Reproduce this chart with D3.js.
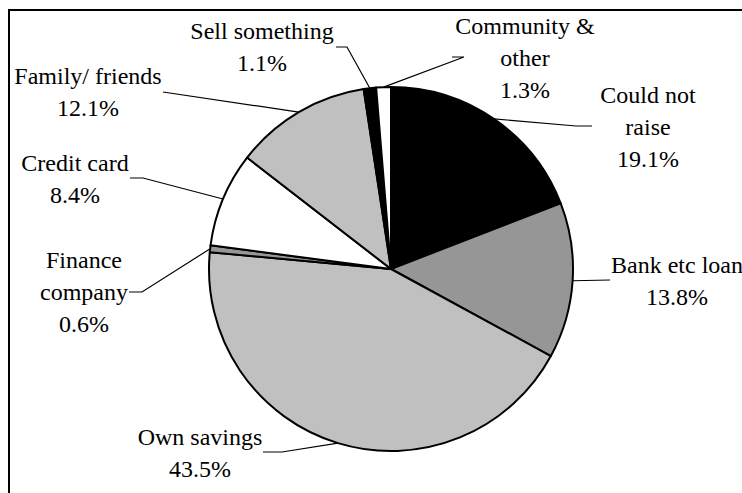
<!DOCTYPE html>
<html>
<head>
<meta charset="utf-8">
<script src="https://cdn.jsdelivr.net/npm/d3@7/dist/d3.min.js"></script>
</head>
<body style="margin:0">
<script>
// Sources of funds, share of respondents (%)
const categories = ["Could not raise", "Bank etc loan", "Own savings", "Finance company",
                    "Credit card", "Family/ friends", "Sell something", "Community & other"];
const values = [19.1, 13.8, 43.5, 0.6, 8.4, 12.1, 1.1, 1.3];
// Label text as broken onto lines
const labelLines = [["Could not", "raise"], ["Bank etc loan"], ["Own savings"], ["Finance", "company"],
                    ["Credit card"], ["Family/ friends"], ["Sell something"], ["Community &", "other"]];
const fills = ["#000000", "#969696", "#c0c0c0", "#969696", "#ffffff", "#c0c0c0", "#000000", "#ffffff"];

const W = 742, H = 493;
const cx = 391, cy = 269, r = 182;
const lineH = 32;
const FONT = "Tinos";

// Label anchor (centre x, first baseline) and the label end of each leader line
const labelLayout = [
  { x: 648, y: 103, lead: [[592, 126], [576, 126]] },
  { x: 677, y: 273, lead: [[610, 280]] },
  { x: 200, y: 445, lead: [[263, 452], [282, 452]] },
  { x: 84,  y: 268, lead: [[129, 292], [142, 292]] },
  { x: 75,  y: 171, lead: [[130, 178], [143, 178]] },
  { x: 88,  y: 84,  lead: [[163, 92]] },
  { x: 262, y: 39,  lead: [[336, 47], [347, 47]] },
  { x: 525, y: 34,  lead: [[452, 57], [464, 57]] }
];

const svg = d3.select("body").append("svg").attr("width", W).attr("height", H)
  .style("display", "block");

// Chart area frame
svg.append("rect")
  .attr("x", 9).attr("y", 10).attr("width", 800).attr("height", 600)
  .attr("fill", "none").attr("stroke", "#000").attr("stroke-width", 2);

const pie = d3.pie().sort(null).value(d => d).startAngle(0).endAngle(2 * Math.PI);
const arcs = pie(values);
const arc = d3.arc().innerRadius(0).outerRadius(r);

const g = svg.append("g").attr("transform", `translate(${cx},${cy})`);

g.selectAll("path")
  .data(arcs)
  .join("path")
  .attr("d", arc)
  .attr("fill", (d, i) => fills[i])
  .attr("stroke", "#000")
  .attr("stroke-width", 2)
  .attr("stroke-linejoin", "round");

// Leader lines: from the label side to the slice edge at its mid angle
const edgePoint = d => {
  const a = (d.startAngle + d.endAngle) / 2;
  return [cx + r * Math.sin(a), cy - r * Math.cos(a)];
};

svg.append("g").selectAll("polyline")
  .data(arcs)
  .join("polyline")
  .attr("points", (d, i) => labelLayout[i].lead.concat([edgePoint(d)]).map(p => p.join(",")).join(" "))
  .attr("fill", "none")
  .attr("stroke", "#000")
  .attr("stroke-width", 1.2);

// Labels: one text per line, category name lines followed by the percentage
const labelRows = [];
arcs.forEach((d, i) => {
  const L = labelLayout[i];
  labelLines[i].concat([values[i].toFixed(1) + "%"]).forEach((t, j) => {
    labelRows.push({ text: t, x: L.x, y: L.y + j * lineH });
  });
});

svg.append("g")
  .selectAll("text")
  .data(labelRows)
  .join("text")
  .attr("x", d => d.x)
  .attr("y", d => d.y)
  .attr("text-anchor", "middle")
  .style("font-family", `"${FONT}", "Times New Roman", "Liberation Serif"`)
  .style("font-size", "24px")
  .style("fill", "#000")
  .text(d => d.text);
</script>
</body>
</html>
